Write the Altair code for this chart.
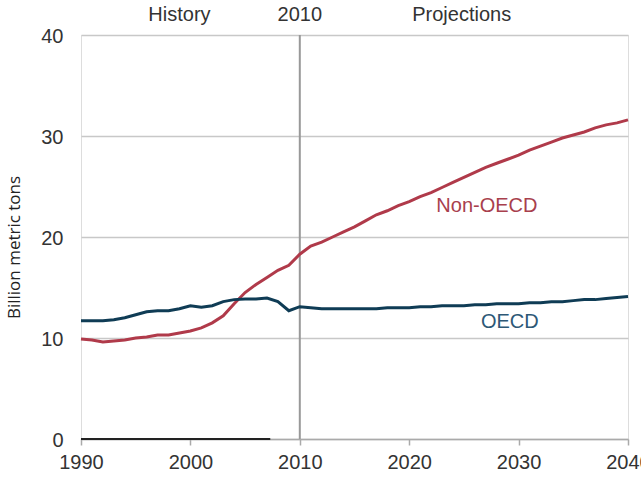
import altair as alt
import pandas as pd

years = list(range(1990, 2041))
non_oecd = [9.9, 9.8, 9.6, 9.7, 9.8, 10.0, 10.1, 10.3, 10.3, 10.5,
            10.7, 11.0, 11.5, 12.2, 13.4, 14.5, 15.3, 16.0, 16.7, 17.2,
            18.3, 19.1, 19.5, 20.0, 20.5, 21.0, 21.6, 22.2, 22.6, 23.1,
            23.5, 24.0, 24.4, 24.9, 25.4, 25.9, 26.4, 26.9, 27.3, 27.7,
            28.1, 28.6, 29.0, 29.4, 29.8, 30.1, 30.4, 30.8, 31.1, 31.3, 31.6]
oecd = [11.7, 11.7, 11.7, 11.8, 12.0, 12.3, 12.6, 12.7, 12.7, 12.9,
        13.2, 13.05, 13.2, 13.6, 13.8, 13.85, 13.85, 13.95, 13.6, 12.7,
        13.1, 13.0, 12.9, 12.9, 12.9, 12.9, 12.9, 12.9, 13.0, 13.0,
        13.0, 13.1, 13.1, 13.2, 13.2, 13.2, 13.3, 13.3, 13.4, 13.4,
        13.4, 13.5, 13.5, 13.6, 13.6, 13.7, 13.8, 13.8, 13.9, 14.0, 14.1]

x_ticks = [1990, 2000, 2010, 2020, 2030, 2040]
y_ticks = [0, 10, 20, 30, 40]

top_labels = ["History", "2010", "Projections"]
top_label_years = [1999, 2010, 2024.8]

series_labels = ["Non-OECD", "OECD"]
series_label_years = [2027.1, 2029.2]
series_label_values = [23.1, 11.6]
series_colors = ["#b03a4a", "#0f3c55"]
series_text_colors = ["#a8404d", "#2d5876"]

base_years = [1990, 2007.3]
base_values = [0, 0]

FONT = "Liberation Sans"
FS = 20

df = pd.DataFrame({
    "year": years * 2,
    "value": non_oecd + oecd,
    "series": ["Non-OECD"] * len(years) + ["OECD"] * len(years),
})

xscale = alt.Scale(domain=[1990, 2040], nice=False, zero=False)
yscale = alt.Scale(domain=[0, 40], nice=False)

color_scale = alt.Scale(domain=series_labels, range=series_colors)

lines = alt.Chart(df).mark_line(strokeWidth=3).encode(
    x=alt.X("year:Q", scale=xscale,
            axis=alt.Axis(values=x_ticks, format="d", title=None, grid=False,
                          domainColor="#aaaaaa", domainWidth=1.5,
                          tickColor="#aaaaaa", tickSize=6, tickWidth=1.5,
                          labelFont=FONT, labelFontSize=FS, labelColor="#333333",
                          labelPadding=7, labelOverlap=False, labelFlush=False)),
    y=alt.Y("value:Q", scale=yscale,
            axis=alt.Axis(values=y_ticks, title="Billion metric tons", grid=True,
                          gridColor="#c8c8c8", gridWidth=1.5, domain=False, ticks=False,
                          labelFont=FONT, labelFontSize=FS, labelColor="#333333",
                          labelPadding=18, labelOffset=1,
                          titleFont="Open Sans", titleFontSize=17,
                          titleFontWeight="normal", titleColor="#222222",
                          titleAngle=270, titleAlign="center", titleBaseline="middle",
                          titleX=-67, titleY=212)),
    color=alt.Color("series:N", scale=color_scale, legend=None),
    detail="series:N",
)

vline_df = pd.DataFrame({"year": [2010], "y0": [0], "y1": [40]})
vline = alt.Chart(vline_df).mark_rule(color="#999999", strokeWidth=2).encode(
    x=alt.X("year:Q", scale=xscale),
    y=alt.Y("y0:Q", scale=yscale),
    y2="y1:Q",
)

base_df = pd.DataFrame({"year": base_years, "value": base_values})
base = alt.Chart(base_df).mark_line(color="#222222", strokeWidth=2).encode(
    x=alt.X("year:Q", scale=xscale),
    y=alt.Y("value:Q", scale=yscale),
)

top_df = pd.DataFrame({"year": top_label_years, "label": top_labels})
top = alt.Chart(top_df).mark_text(font=FONT, fontSize=FS, color="#333333",
                                  baseline="alphabetic", align="center").encode(
    x=alt.X("year:Q", scale=xscale),
    y=alt.value(-14),
    text="label:N",
)

lab_df = pd.DataFrame({"year": series_label_years, "value": series_label_values,
                       "label": series_labels})
labs = alt.Chart(lab_df).mark_text(font=FONT, fontSize=FS, baseline="middle",
                                   align="center").encode(
    x=alt.X("year:Q", scale=xscale),
    y=alt.Y("value:Q", scale=yscale),
    text="label:N",
    color=alt.Color("label:N", scale=alt.Scale(domain=series_labels,
                                               range=series_text_colors), legend=None),
)

chart = alt.layer(vline, base, lines, top, labs).resolve_scale(color="independent").properties(
    width=547, height=404,
    autosize=alt.AutoSizeParams(type="none"),
    padding={"left": 81, "top": 35, "right": 13, "bottom": 45},
).configure_view(stroke=None).configure(background="white")

chart.save("out.html", embed_options={"renderer": "svg", "actions": False})
